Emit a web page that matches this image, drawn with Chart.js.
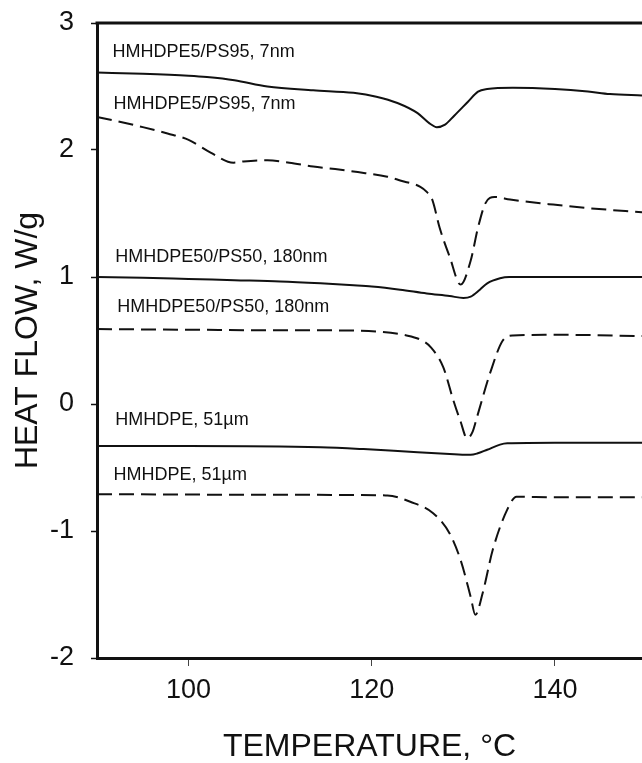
<!DOCTYPE html>
<html>
<head>
<meta charset="utf-8">
<script src="https://cdn.jsdelivr.net/npm/chart.js@4"></script>
<style>
  body { margin: 0; background: #fff; }
</style>
</head>
<body>
<canvas id="dscChart" width="642" height="763"></canvas>
<script>
// temperature (C) and heat flow (W/g)
var pe5Solid = [[90,2.61],[95,2.60],[100,2.585],[102,2.575],[105,2.55],[108.6,2.50],[113.6,2.47],[118,2.45],[120.5,2.42],[122.8,2.37],[125,2.29],[126.3,2.21],[127.1,2.18],[128,2.20],[129,2.27],[130.5,2.38],[131.6,2.46],[132.6,2.48],[135.4,2.49],[140,2.48],[143.6,2.46],[146,2.44],[149.5,2.43]];
var pe5Dash = [[90,2.26],[92,2.23],[95,2.18],[97.7,2.13],[100,2.08],[102.4,1.98],[104.9,1.90],[106,1.91],[108.6,1.92],[111,1.90],[113.6,1.87],[116,1.85],[118,1.83],[121.7,1.79],[123.1,1.76],[125.3,1.71],[126,1.67],[126.6,1.61],[127.4,1.39],[128.5,1.16],[129.7,0.94],[130.8,1.13],[131.6,1.39],[132.4,1.58],[133.4,1.63],[135.1,1.61],[138.4,1.58],[139.8,1.57],[144,1.54],[149.5,1.51]];
var pe50Solid = [[90,1.0],[95,0.995],[100,0.985],[105,0.975],[110,0.965],[114.4,0.95],[118,0.935],[120,0.925],[123.1,0.90],[126,0.87],[128.5,0.85],[130,0.835],[130.8,0.845],[131.8,0.90],[132.6,0.95],[134,0.99],[135,1.0],[140,1.0],[149.5,1.0]];
var pe50Dash = [[90,0.59],[100,0.585],[110,0.58],[114.4,0.58],[120.6,0.57],[123.8,0.54],[125.5,0.50],[126.4,0.45],[127.8,0.29],[128.9,0.03],[129.7,-0.14],[130.4,-0.27],[131,-0.22],[131.5,-0.10],[132.9,0.24],[134.3,0.50],[135.4,0.54],[140,0.545],[149.5,0.535]];
var peSolid = [[90,-0.33],[100,-0.33],[114.4,-0.34],[119.1,-0.355],[125,-0.38],[129,-0.395],[130.8,-0.40],[131.5,-0.39],[132.6,-0.36],[134,-0.32],[134.8,-0.31],[140,-0.305],[149.5,-0.305]];
var peDash = [[90,-0.71],[110,-0.715],[121.7,-0.72],[124.2,-0.77],[126.7,-0.86],[128.5,-1.02],[129.7,-1.23],[130.8,-1.52],[131.3,-1.66],[132.1,-1.49],[133.2,-1.15],[134.8,-0.83],[135.8,-0.73],[140,-0.735],[149.5,-0.735]];

var xTicks = [100, 120, 140];
var yTicks = [-2, -1, 0, 1, 2, 3];

// curve labels: text, x, y (data units)
var labelText = ['HMHDPE5/PS95, 7nm', 'HMHDPE5/PS95, 7nm', 'HMHDPE50/PS50, 180nm', 'HMHDPE50/PS50, 180nm', 'HMHDPE, 51\u00b5m', 'HMHDPE, 51\u00b5m'];
var labelX = [91.7, 91.8, 92.0, 92.2, 92.0, 91.8];
var labelY = [2.77, 2.36, 1.16, 0.76, -0.13, -0.56];

var FONT = '"Liberation Sans", Arial, sans-serif';

function toPts(arr) {
  return arr.map(function(p) { return {x: p[0], y: p[1]}; });
}

function line(arr, dashed) {
  return {
    data: toPts(arr),
    borderColor: '#111',
    borderWidth: 2,
    borderDash: dashed ? [15, 7] : [],
    pointRadius: 0,
    fill: false,
    cubicInterpolationMode: 'monotone'
  };
}

var frame = {
  id: 'frame',
  afterDatasetsDraw: function(chart) {
    var c = chart.ctx, a = chart.chartArea;
    c.save();
    c.strokeStyle = '#111';
    c.lineWidth = 3;
    c.beginPath();
    c.moveTo(a.left - 1.5, a.top);
    c.lineTo(a.right, a.top);
    c.stroke();
    c.fillStyle = '#111';
    c.font = '18px ' + FONT;
    c.textBaseline = 'middle';
    var xs = chart.scales.x, ys = chart.scales.y;
    for (var i = 0; i < labelText.length; i++) {
      c.fillText(labelText[i], xs.getPixelForValue(labelX[i]), ys.getPixelForValue(labelY[i]));
    }
    c.restore();
  }
};

var ctx = document.getElementById('dscChart').getContext('2d');

var myChart = new Chart(ctx, {
  type: 'line',
  data: {
    datasets: [
      line(pe5Solid, false),
      line(pe5Dash, true),
      line(pe50Solid, false),
      line(pe50Dash, true),
      line(peSolid, false),
      line(peDash, true)
    ]
  },
  options: {
    responsive: false,
    animation: false,
    layout: { padding: { top: 23, right: 0, left: 0, bottom: 0 } },
    plugins: { legend: { display: false }, tooltip: { enabled: false } },
    scales: {
      x: {
        type: 'linear',
        min: 90,
        max: 149.5,
        afterBuildTicks: function(s) { s.ticks = xTicks.map(function(v) { return {value: v}; }); },
        afterFit: function(s) { s.height = 105; s.paddingLeft = 0; s.paddingRight = 0; },
        grid: { drawOnChartArea: false, tickLength: 8, tickColor: '#444', tickWidth: 1 },
        border: { display: true, color: '#111', width: 3 },
        ticks: { color: '#111', font: { family: FONT, size: 27 }, padding: 8, maxRotation: 0 },
        title: { display: true, text: 'TEMPERATURE, \u00b0C', color: '#111', font: { family: FONT, size: 32, lineHeight: 1 }, padding: 0 }
      },
      y: {
        type: 'linear',
        min: -2,
        max: 3,
        afterBuildTicks: function(s) { s.ticks = yTicks.map(function(v) { return {value: v}; }); },
        afterFit: function(s) { s.width = 97; s.paddingTop = 0; s.paddingBottom = 0; },
        grid: { drawOnChartArea: false, tickLength: 6, tickColor: '#111', tickWidth: 1.5 },
        border: { display: true, color: '#111', width: 3 },
        ticks: { color: '#111', font: { family: FONT, size: 27 }, padding: 17 },
        title: { display: true, text: 'HEAT FLOW, W/g', color: '#111', font: { family: FONT, size: 32, lineHeight: 1 }, padding: { top: 12, bottom: 0 } }
      }
    }
  },
  plugins: [frame]
});
</script>
</body>
</html>
